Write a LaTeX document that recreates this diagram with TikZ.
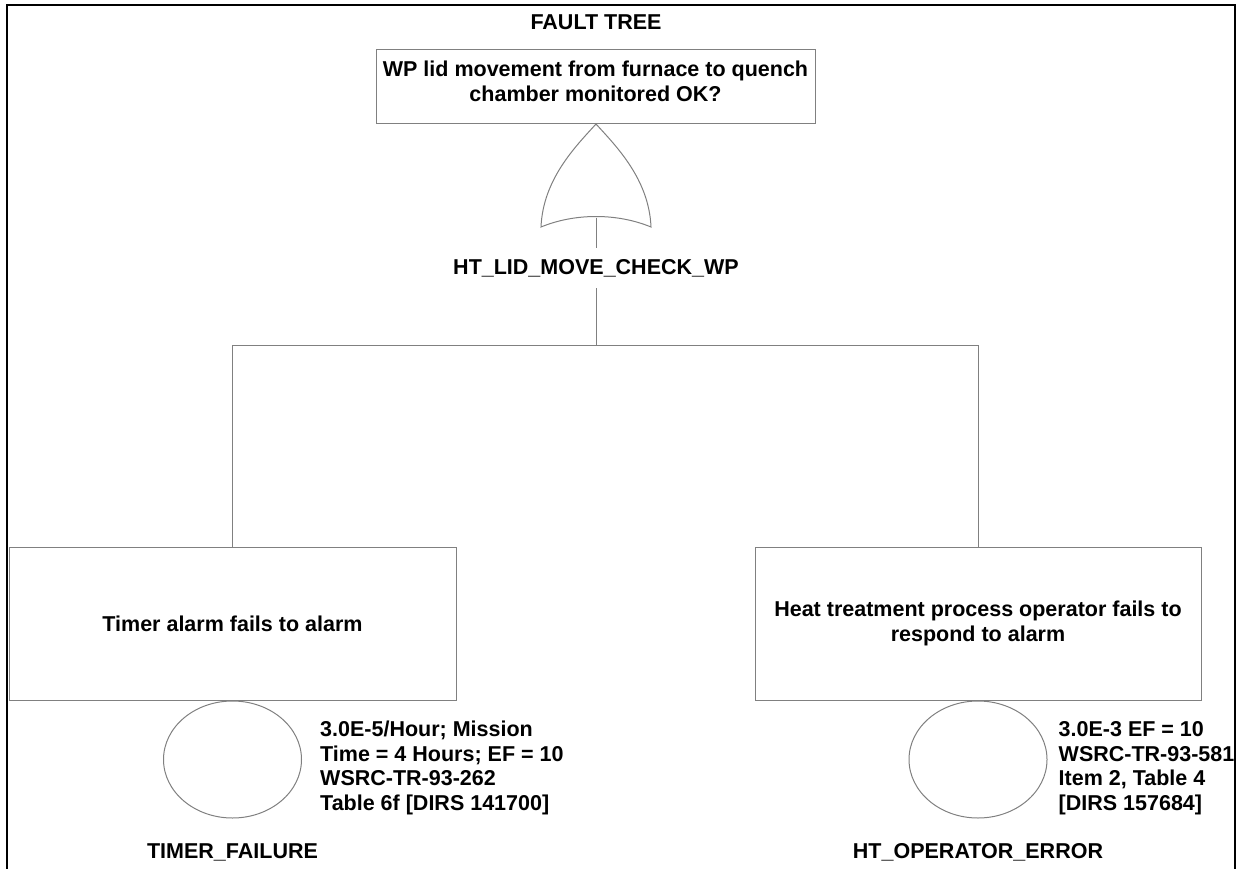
\documentclass[tikz,border=0pt]{standalone}
\usepackage{fontspec}
\setmainfont{Liberation Sans}
\usetikzlibrary{positioning,shapes.geometric}
\definecolor{ink}{RGB}{0,0,0}
\definecolor{wire}{RGB}{128,128,128}
\newcommand{\ftb}{\fontsize{21.5}{24.5}\selectfont\bfseries}
\tikzset{
  evt/.style={draw=wire,line width=1pt,rectangle,align=center,inner sep=2pt,font=\ftb},
  basic/.style={draw=wire,line width=1pt,ellipse,minimum width=138pt,minimum height=117pt,inner sep=0pt},
  lbl/.style={font=\ftb,inner sep=0pt},
  gatelbl/.style={font=\ftb,inner xsep=0pt,inner ysep=11pt},
  note/.style={font=\ftb,align=left,inner sep=0pt},
  conn/.style={draw=wire,line width=1pt},
  frame/.style={line width=2pt,ink},
}

\begin{document}
\begin{tikzpicture}[x=1pt,y=-1pt]
  \useasboundingbox (0,0) rectangle (1241,869);
  \draw[frame] (7,869) -- (7,5) -- (1235,5) -- (1235,869);

  \node[lbl] (title) at (596,22.3) {FAULT TREE};
  \node[evt,minimum width=439pt,minimum height=74pt] (top) at (595.5,87)
    {WP lid movement from furnace to quench\\chamber monitored OK?\\[-13pt]\mbox{}};

  % OR gate
  \coordinate (apex) at (596,124);
  \coordinate (gout) at (596,217.5);
  \draw[conn] (apex) .. controls +(-20,22) and +(2,-48) .. (541,227)
    .. controls (575,213) and (617,213) .. (651,227)
    .. controls +(-2,-48) and +(20,22) .. (apex);
  \node[gatelbl] (gname) at (596,268) {HT\_LID\_MOVE\_CHECK\_WP};
  \coordinate (split) at (596,345);
  \draw[conn] (gout) -- (gname);
  \draw[conn] (gname) -- (split);

  \node[evt,minimum width=447pt,minimum height=153pt] (timer) at (232.5,623.5)
    {Timer alarm fails to alarm};
  \node[evt,minimum width=446pt,minimum height=153pt] (oper) at (978,623.5)
    {Heat treatment process operator fails to\\respond to alarm};
  \draw[conn] (split) -| (timer.north);
  \draw[conn] (split) -| (oper.north);

  % basic events
  \node[basic,below=0pt of timer] (tmrf) {};
  \node[basic,below=0pt of oper] (operr) {};
  \node[note,right=18pt of tmrf,yshift=-8.5pt] (tmrfnote)
    {3.0E-5/Hour; Mission\\Time = 4 Hours; EF = 10\\WSRC-TR-93-262\\Table 6f [DIRS 141700]};
  \node[note,right=11pt of operr,yshift=-8.5pt] (operrnote)
    {3.0E-3 EF = 10\\WSRC-TR-93-581\\Item 2, Table 4\\{}[DIRS 157684]};
  \node[lbl,below=25pt of tmrf] (tmrfname) {TIMER\_FAILURE};
  \node[lbl,below=25pt of operr] (operrname) {HT\_OPERATOR\_ERROR};
\end{tikzpicture}
\end{document}
